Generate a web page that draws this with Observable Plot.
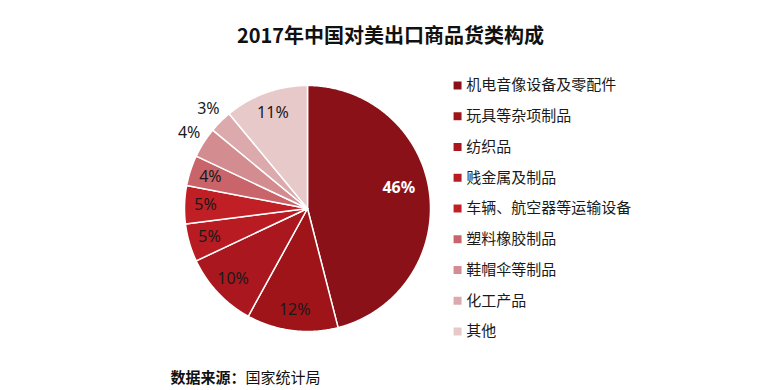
<!DOCTYPE html>
<html><head><meta charset="utf-8">
<script src="https://cdn.jsdelivr.net/npm/d3@7"></script>
<script src="https://cdn.jsdelivr.net/npm/@observablehq/plot@0.6"></script>
<style>
body{margin:0;background:#fff;}
#chart svg{display:block;}
</style>
</head><body><div id="chart"></div>
<script>
// ---- data ----
const categories = ["机电音像设备及零配件","玩具等杂项制品","纺织品","贱金属及制品","车辆、航空器等运输设备","塑料橡胶制品","鞋帽伞等制品","化工产品","其他"];
const shares = [46, 12, 10, 5, 5, 4, 4, 3, 11];
const colors = ["#8B1118","#9E1419","#AA171E","#B81B22","#C11F26","#C9646A","#D38D90","#DCAAAC","#E8C9CA"];
const title = "2017年中国对美出口商品货类构成";
const sourceLabel = "数据来源：";
const sourceText = "国家统计局";
const outsideLabels = ["鞋帽伞等制品","化工产品"];

// ---- geometry from the values (pie starts at 12 o'clock, clockwise) ----
const arcs = d3.pie().sort(null).value(d => d)(shares);
const slicePts = [];
arcs.forEach((a, i) => {
  const cat = categories[i];
  slicePts.push({cat, x: 0, y: 0});
  const n = Math.max(2, Math.ceil((a.endAngle - a.startAngle) / (Math.PI / 360)));
  for (let k = 0; k <= n; k++) {
    const t = a.startAngle + (a.endAngle - a.startAngle) * k / n;
    slicePts.push({cat, x: Math.sin(t), y: Math.cos(t)});
  }
  slicePts.push({cat, x: 0, y: 0});
});
const labels = arcs.map((a, i) => {
  const m = (a.startAngle + a.endAngle) / 2;
  const cat = categories[i];
  const r = i === 0 ? 0.74 : outsideLabels.includes(cat) ? 1.14 : 0.83;
  return {cat, text: shares[i] + "%", x: r * Math.sin(m), y: r * Math.cos(m), big: i === 0};
});
const legend = categories.map((c, i) => ({cat: c, y: 1.0 - 0.25 * i}));

const plot = Plot.plot({
  width: 780,
  height: 390,
  margin: 0,
  x: {domain: [-1, 1], range: [184, 430], axis: null},
  y: {domain: [-1, 1], range: [331, 85], axis: null},
  color: {domain: categories, range: colors},
  style: {background: "#fff", fontFamily: "'Noto Sans','Noto Sans CJK SC',sans-serif"},
  marks: [
    Plot.line(slicePts, {x: "x", y: "y", z: "cat", fill: "cat", stroke: "#fff", strokeWidth: 1.5, curve: "linear"}),
    Plot.text(labels.filter(d => !d.big), {x: "x", y: "y", text: "text", fill: "#1a1a1a", fontSize: 16, fontFamily: "'Noto Sans',sans-serif"}),
    Plot.text(labels.filter(d => d.big), {x: "x", y: "y", dy: -9, dx: 1, text: "text", fill: "#fff", fontSize: 16, fontWeight: "bold", fontFamily: "'Noto Sans',sans-serif"}),
    Plot.dot(legend, {x: () => 1.22, y: "y", fill: "cat", symbol: "square", r: 4.5}),
    Plot.text(legend, {x: () => 1.29, y: "y", text: "cat", textAnchor: "start", fill: "#1a1a1a", fontSize: 15, fontFamily: "'Noto Sans CJK SC',sans-serif"}),
    Plot.text([title], {frameAnchor: "top", dy: 28, text: d => d, fontSize: 20, fontWeight: "bold", fill: "#111", fontFamily: "'Noto Sans CJK SC',sans-serif"}),
    Plot.text([sourceLabel], {frameAnchor: "top-left", dx: 170, dy: 372, textAnchor: "start", text: d => d, fontSize: 15, fontWeight: "bold", fill: "#111", fontFamily: "'Noto Sans CJK SC',sans-serif"}),
    Plot.text([sourceText], {frameAnchor: "top-left", dx: 245, dy: 372, textAnchor: "start", text: d => d, fontSize: 15, fill: "#111", fontFamily: "'Noto Sans CJK SC',sans-serif"})
  ]
});
document.getElementById("chart").appendChild(plot);
</script>
</body></html>
